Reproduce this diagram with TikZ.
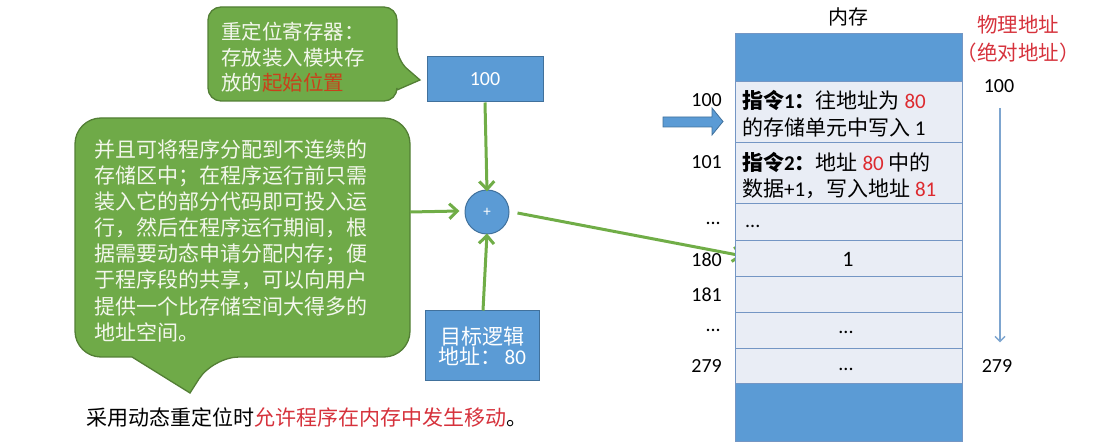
\documentclass[tikz,border=0pt]{standalone}
\usepackage{fontspec}
\setmainfont{Carlito}
\newfontfamily\cjk{Noto Sans CJK SC}
\usetikzlibrary{arrows.meta,calc}
\definecolor{callgreen}{HTML}{6FAA48}
\definecolor{callborder}{HTML}{537F35}
\definecolor{calltext}{HTML}{F3F7EC}
\definecolor{callred}{HTML}{C8411B}
\definecolor{boxblue}{HTML}{5B9BD5}
\definecolor{boxborder}{HTML}{41719C}
\definecolor{cellfill}{HTML}{E9EDF5}
\definecolor{cellline}{HTML}{7496C4}
\definecolor{numred}{HTML}{DD2A2F}
\definecolor{labred}{HTML}{D6323C}
\definecolor{arrowgreen}{HTML}{70AD47}
\definecolor{thinblue}{HTML}{7DA5CF}
\newcommand\setfs[1]{\fontsize{#1}{#1}\selectfont}

\begin{document}
\begin{tikzpicture}[x=1pt,y=-1pt,
  callout/.style={fill=callgreen,draw=callborder,line width=1.3pt},
  calline/.style={anchor=west,inner sep=0pt,text=calltext,font=\cjk\setfs{20.5}},
  bluebox/.style={fill=boxblue,draw=boxborder,line width=1pt,text=white,inner sep=0pt},
  cell/.style={fill=cellfill,draw=cellline,line width=1.2pt,anchor=north west,
    minimum width=227pt,inner sep=0pt},
  celltext/.style={anchor=west,inner sep=0pt,font=\setfs{21}},
  addr/.style={anchor=east,inner sep=0pt,font=\setfs{20}},
  garrow/.style={draw=arrowgreen,line width=3pt,
    -{Straight Barb[length=8pt,width=15pt,line width=3pt]}},
]
\useasboundingbox (0,0) rectangle (1120,443);

% relocation register callout
\path[callout] (300,7) [rounded corners=13pt] -- (397,7) -- (397,60)
  [sharp corners] -- (420,80) -- (397,90) [rounded corners=13pt]
  -- (397,101) -- (208,101) -- (208,7) -- cycle;
\node[calline] (t1) at (221,32) {重定位寄存器：};
\node[calline] (t2) at (221,58) {存放装入模块存};
\node[calline] (t3) at (221,83) {放的\textcolor{callred}{起始位置}};

% explanation callout
\path[callout] (240,118) [rounded corners=26pt] -- (410,118) -- (410,357)
  -- (213,357) [sharp corners] -- (190,393) -- (132,357)
  [rounded corners=26pt] -- (75,357) -- (75,118) -- cycle;
\foreach \txt [count=\i] in {并且可将程序分配到不连续的,存储区中；在程序运行前只需,
  装入它的部分代码即可投入运,行，然后在程序运行期间，根,
  据需要动态申请分配内存；便,于程序段的共享，可以向用户,
  提供一个比存储空间大得多的,地址空间。}
  \node[calline,font=\cjk\setfs{21}] (b\i) at (94,{150+26*(\i-1)}) {\txt};
\coordinate (bR) at (410,212);

% address adder
\node[bluebox,minimum width=116pt,minimum height=45pt,font=\setfs{20}]
  (reg) at (485,79.5) {100};
\node[bluebox,circle,minimum size=44pt,font=\setfs{15}] (plus) at (487,212) {+};
\node[bluebox,minimum width=114pt,minimum height=70pt,align=center,
  font=\cjk\setfs{21}] (logic) at (482,346)
  {目标逻辑\\[-1pt]地址：\,{\fontspec{Carlito}80}};

\draw[garrow] (reg.south) -- ($(plus.north)+(0,2)$);
\draw[garrow] (bR) -- ($(plus.west)+(-5,-1)$);
\draw[garrow] ($(logic.north)+(1,0)$) -- ($(plus.south)+(0,-1)$);
\coordinate (t180) at (743,256);
\draw[garrow] ($(plus.east)+(8,1)$) -- (t180);

% memory
\node[inner sep=0pt,font=\cjk\setfs{20}] (memlab) at (848,17) {内存};
\node[cell,fill=boxblue,draw=cellline,minimum height=48pt] (top) at (735,33) {};
\node[cell,minimum height=61pt] (c1) at (735,81) {};
\node[cell,minimum height=61pt] (c2) at (735,142) {};
\node[cell,minimum height=37pt] (c3) at (735,203) {};
\node[cell,minimum height=36pt] (c4) at (735,240) {};
\node[cell,minimum height=36pt] (c5) at (735,276) {};
\node[cell,minimum height=36pt] (c6) at (735,312) {};
\node[cell,minimum height=35pt] (c7) at (735,348) {};
\node[cell,fill=boxblue,draw=cellline,minimum height=58pt] (bot) at (735,383) {};

\node[celltext] (i1a) at (742,100) {{\cjk\bfseries 指令}\textbf{1}{\cjk\bfseries ：}{\cjk 往地址为} \textcolor{numred}{80}};
\node[celltext] (i1b) at (742,127) {{\cjk 的存储单元中写入} 1};
\node[celltext] (i2a) at (742,162) {{\cjk\bfseries 指令}\textbf{2}{\cjk\bfseries ：}{\cjk 地址} \textcolor{numred}{80} {\cjk 中的}};
\node[celltext] (i2b) at (742,189) {{\cjk 数据}+1{\cjk ，写入地址} \textcolor{numred}{81}};
\node[celltext,font=\setfs{20}] (d3) at (745,226) {...};
\node[inner sep=0pt,font=\setfs{22}] (one) at (848,259) {1};
\node[inner sep=0pt,font=\setfs{20}] (d6) at (846,332) {...};
\node[inner sep=0pt,font=\setfs{20}] (d7) at (846,369) {...};

% logical addresses on the left
\node[addr] (a1) at (722,100) {100};
\node[addr] (a2) at (722,162) {101};
\node[addr] (a3) at (721,223) {...};
\node[addr] (a4) at (722,260) {180};
\node[addr] (a5) at (722,295) {181};
\node[addr] (a6) at (721,330) {...};
\node[addr] (a7) at (722,366) {279};

% program counter arrow
\path[fill=boxblue,draw=boxborder,line width=0.8pt]
  (663,117) -- (712,117) -- (712,108) -- (723,121.5) -- (712,135)
  -- (712,127) -- (663,127) -- cycle;

% physical addresses on the right
\node[inner sep=0pt,text=labred,font=\cjk\setfs{20.5}] (pl1) at (1018,25) {物理地址};
\node[inner sep=0pt,text=labred,font=\cjk\setfs{20.5}] (pl2) at (1018,53) {（绝对地址）};
\node[inner sep=0pt,font=\setfs{20}] (p100) at (999,86) {100};
\node[inner sep=0pt,font=\setfs{20}] (p279) at (997,366) {279};
\draw[thinblue,line width=1.4pt,-{Straight Barb[length=5pt,width=10pt,line width=1.4pt]}]
  ($(p100.south)+(1,15)$) -- ($(p279.north)+(3,-17)$);

% caption
\node[anchor=west,inner sep=0pt,font=\cjk\setfs{21}] (cap) at (86,418)
  {采用动态重定位时\textcolor{labred}{允许程序在内存中发生移动}。};
\end{tikzpicture}
\end{document}
